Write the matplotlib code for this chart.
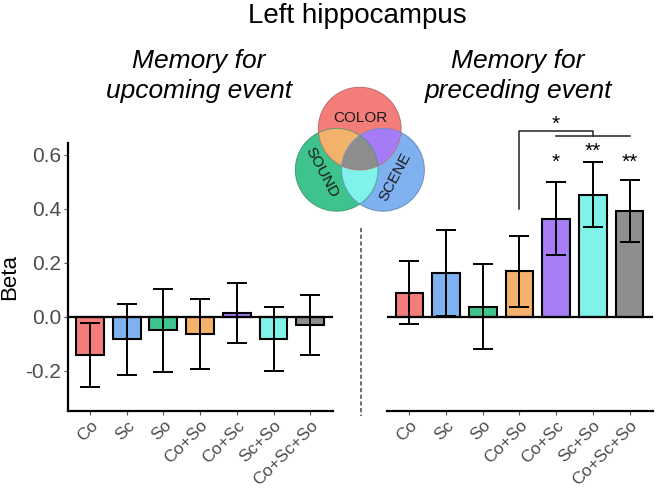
import numpy as np
import matplotlib.pyplot as plt
import matplotlib.transforms as mtransforms
from matplotlib.patches import Circle
from matplotlib.lines import Line2D
from matplotlib.colors import to_rgba

plt.rcParams['font.family'] = ['Liberation Sans', 'DejaVu Sans']

# data
labels = ['Co', 'Sc', 'So', 'Co+So', 'Co+Sc', 'Sc+So', 'Co+Sc+So']
upcoming_beta = [-0.143, -0.084, -0.051, -0.065, 0.014, -0.083, -0.032]
upcoming_err = [0.118, 0.131, 0.155, 0.131, 0.111, 0.120, 0.112]
preceding_beta = [0.089, 0.162, 0.037, 0.168, 0.364, 0.453, 0.391]
preceding_err = [0.118, 0.160, 0.157, 0.132, 0.134, 0.120, 0.115]
preceding_stars = ['', '', '', '', '*', '**', '**']
star_y = [0, 0, 0, 0, 0.572, 0.615, 0.572]
bar_colors = ['#F47D7A', '#7FB0F0', '#3FC48E', '#F4B26C',
              '#A77CF7', '#7FF2EA', '#8E8E8E']

W, H = 656, 488
fig = plt.figure(figsize=(W / 100, H / 100), dpi=100)


def px_axes(x0, y0, x1, y1):
    # axes placed by pixel box (top-left origin)
    return fig.add_axes([x0 / W, 1 - y1 / H, (x1 - x0) / W, (y1 - y0) / H])


YLIM = (-0.349, 0.643)
x = np.arange(len(labels))

ax1 = px_axes(68.3, 143.3, 333, 410.7)
ax2 = px_axes(386.7, 143.3, 653, 410.7)

for ax, beta, err, xl in [(ax1, upcoming_beta, upcoming_err, (-0.59, 6.62)),
                          (ax2, preceding_beta, preceding_err, (-0.62, 6.64))]:
    ax.bar(x, beta, width=0.76, color=bar_colors, edgecolor='black',
           linewidth=1.5, zorder=2)
    ax.errorbar(x, beta, yerr=err, fmt='none', ecolor='black', elinewidth=1.4,
                capsize=7, capthick=1.4, zorder=3)
    ax.axhline(0, color='black', lw=1.6, zorder=4)
    ax.set_xlim(*xl)
    ax.set_ylim(*YLIM)
    ax.set_xticks(x)
    ax.set_xticklabels(labels, rotation=45, ha='right', va='top',
                       rotation_mode='anchor', fontsize=12.5, color='#4D4D4D')
    offset = mtransforms.ScaledTranslation(6 / 100, 0, fig.dpi_scale_trans)
    for lab in ax.get_xticklabels():
        lab.set_transform(lab.get_transform() + offset)
    ax.tick_params(axis='x', length=3, width=0.8, color='#555555', pad=2)
    for s in ['top', 'right']:
        ax.spines[s].set_visible(False)
    ax.spines['bottom'].set_linewidth(1.6)
    ax.patch.set_alpha(0)

ax1.spines['left'].set_linewidth(1.6)
ax1.set_yticks([-0.2, 0.0, 0.2, 0.4, 0.6])
ax1.set_yticklabels(['-0.2', '0.0', '0.2', '0.4', '0.6'], fontsize=15,
                    color='#4D4D4D')
ax1.tick_params(axis='y', length=3, width=0.8, color='#555555', pad=2)
ax1.set_ylabel('Beta', fontsize=16, labelpad=4)

ax2.spines['left'].set_visible(False)
ax2.set_yticks([])

# significance stars
for xi, s, sy in zip(x, preceding_stars, star_y):
    if s:
        ax2.text(xi, sy, s, ha='center', va='center', fontsize=15)

# bracket: Co+So vs combined multi-feature conditions
br_top, br_low = 0.690, 0.669
ax2.plot([3, 3, 5, 5], [0.398, br_top, br_top, br_low], color='#222222',
         lw=1.1, clip_on=False)
ax2.plot([4, 6], [br_low, br_low], color='#222222', lw=1.1, clip_on=False)
ax2.text(4, 0.712, '*', ha='center', va='center', fontsize=15, clip_on=False)

# titles
fig.text(357 / W, 1 - 16 / H, 'Left hippocampus', ha='center', va='center',
         fontsize=20)
for cx, lines in [(199, ['Memory for', 'upcoming event']),
                  (518, ['Memory for', 'preceding event'])]:
    fig.text(cx / W, 1 - 68 / H, lines[0], ha='center', va='baseline',
             fontsize=19, style='italic')
    fig.text(cx / W, 1 - 98 / H, lines[1], ha='center', va='baseline',
             fontsize=19, style='italic')

# dashed separator
fig.add_artist(Line2D([360.7 / W, 360.7 / W], [1 - 228 / H, 1 - 416 / H],
                      color='#555555', lw=1.2, ls=(0, (2.5, 1.5))))

# Venn legend
axv = px_axes(290, 84, 430, 218)
axv.set_xlim(290, 430)
axv.set_ylim(218, 84)
axv.axis('off')
centers = {'co': (359.7, 128.6), 'so': (336.7, 169.8), 'sc': (383.0, 169.8)}
r = 41.4
xs = np.linspace(290, 430, 700)
ys = np.linspace(84, 218, 670)
XX, YY = np.meshgrid(xs, ys)
m = {k: (XX - c[0]) ** 2 + (YY - c[1]) ** 2 <= r ** 2 for k, c in centers.items()}
img = np.zeros(XX.shape + (4,))
region_cols = [
    (m['co'] & ~m['so'] & ~m['sc'], bar_colors[0]),
    (m['sc'] & ~m['co'] & ~m['so'], bar_colors[1]),
    (m['so'] & ~m['co'] & ~m['sc'], bar_colors[2]),
    (m['co'] & m['so'] & ~m['sc'], bar_colors[3]),
    (m['co'] & m['sc'] & ~m['so'], bar_colors[4]),
    (m['sc'] & m['so'] & ~m['co'], bar_colors[5]),
    (m['co'] & m['so'] & m['sc'], bar_colors[6]),
]
for mask, col in region_cols:
    img[mask] = to_rgba(col)
axv.imshow(img, extent=(290, 430, 218, 84), interpolation='antialiased',
           aspect='auto', zorder=1)
for k, col in zip(['co', 'sc', 'so'], ['#C86060', '#5A8CC8', '#2F9A6C']):
    axv.add_patch(Circle(centers[k], r, fill=False, edgecolor=col, lw=0.7,
                         alpha=0.7, zorder=2))
axv.text(360, 118, 'COLOR', ha='center', va='center', fontsize=11,
         color='#1a1a1a')
axv.text(321.5, 172.5, 'SOUND', ha='center', va='center', fontsize=11,
         rotation=-62, color='#1a1a1a')
axv.text(395.5, 177, 'SCENE', ha='center', va='center', fontsize=11,
         rotation=62, color='#1a1a1a')

fig.savefig('out.png', dpi=100)
